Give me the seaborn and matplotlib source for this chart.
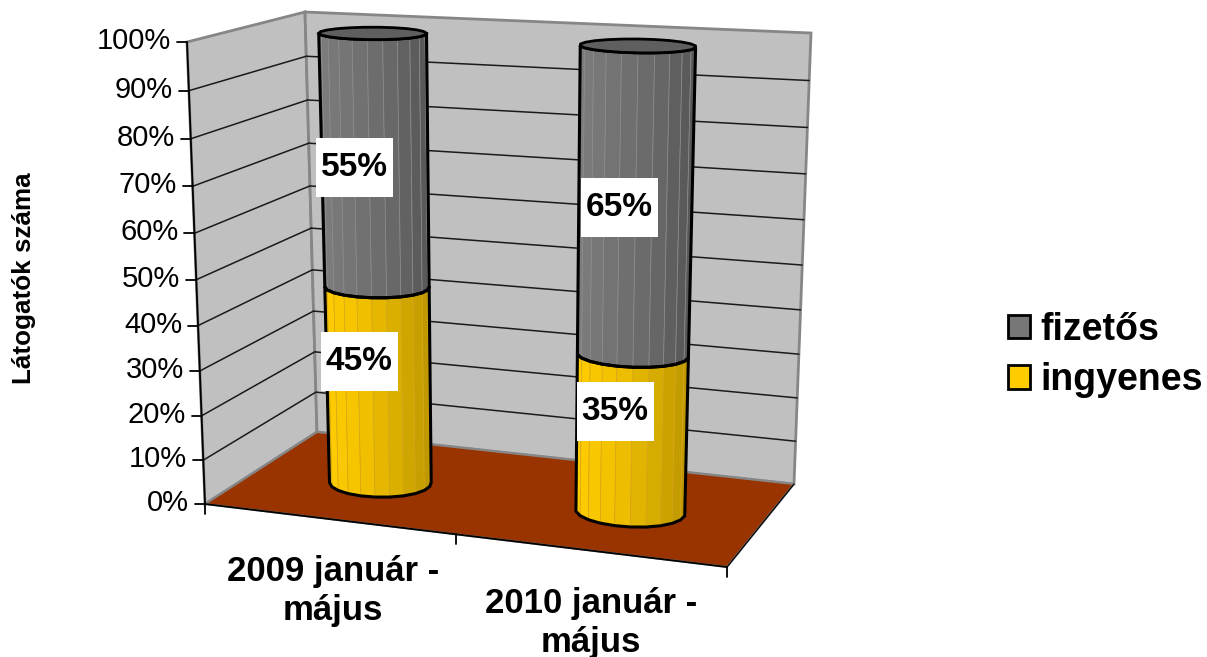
import numpy as np
import pandas as pd
import matplotlib
matplotlib.use('Agg')
import matplotlib.pyplot as plt
from matplotlib.patches import Polygon, Patch, Rectangle
import seaborn as sns

# Chart data
categories = ['2009 január -\nmájus', '2010 január -\nmájus']
series_names = ['ingyenes', 'fizetős']
ingyenes = [45, 35]
fizetos = [55, 65]
y_ticks = [0, 10, 20, 30, 40, 50, 60, 70, 80, 90, 100]
y_label = 'Látogatók száma'

# Excel style 3D box, pixel position of the eight corners (x side, height, depth)
BOX = {
    (0, 0, 0): (205, 504), (1, 0, 0): (727, 567), (0, 0, 1): (317, 432), (1, 0, 1): (794, 484),
    (0, 1, 0): (187, 42), (1, 1, 0): (741, 71), (0, 1, 1): (305, 12), (1, 1, 1): (811, 33),
}
PERSPECTIVE = 1.06
CYL_OFFSET = 0.483
CYL_DEPTH = 0.49
CYL_RX = [0.19, 0.212]
CYL_RZ = 0.18
SIDES = 22


def height_scale(v):
    f = np.asarray(v, dtype=float) / 100
    return f / (f + PERSPECTIVE * (1 - f))


def project(x, v, z):
    # x goes 0..len(categories), v 0..100, z 0..1
    u = np.asarray(x, dtype=float) / len(categories)
    h = height_scale(v)
    z = np.asarray(z, dtype=float)
    px, py = 0, 0
    for (a, b, c), (cx, cy) in BOX.items():
        w = (u if a else 1 - u) * (h if b else 1 - h) * (z if c else 1 - z)
        px = px + w * cx
        py = py + w * cy
    return px, py


def rim(i, v):
    t = np.linspace(0, 2 * np.pi, SIDES + 1) + 0.11
    return project(i + CYL_OFFSET + CYL_RX[i] * np.cos(t), np.full_like(t, v), CYL_DEPTH + CYL_RZ * np.sin(t))


def front_arc(px, py):
    # part of the rim facing the viewer, going from left to right
    px, py = px[:-1], py[:-1]
    left, right = np.argmin(px), np.argmax(px)
    idx = [left]
    while idx[-1] != right:
        idx.append((idx[-1] + 1) % len(px))
    a = np.array(idx)
    if py[a].mean() < (py[left] + py[right]) / 2:
        idx = [left]
        while idx[-1] != right:
            idx.append((idx[-1] - 1) % len(px))
        a = np.array(idx)
    return a


def draw_segment(ax, i, v0, v1, shades, seam, z):
    x0, y0 = rim(i, v0)
    x1, y1 = rim(i, v1)
    arc = front_arc(x0, y0)
    span = x0[arc[-1]] - x0[arc[0]]
    for a, b in zip(arc[:-1], arc[1:]):
        frac = ((x0[a] + x0[b]) / 2 - x0[arc[0]]) / span
        col = shades[int(frac * (len(shades) - 1))]
        pts = [(x0[a], y0[a]), (x0[b], y0[b]), (x1[b], y1[b]), (x1[a], y1[a])]
        ax.add_patch(Polygon(pts, closed=True, fc=col, ec=seam, lw=0.5, zorder=z))
    outline = list(zip(x0[arc], y0[arc])) + list(zip(x1[arc[::-1]], y1[arc[::-1]]))
    ax.add_patch(Polygon(outline, closed=True, fc='none', ec='black', lw=2.2, joinstyle='round', zorder=z + 0.5))


sns.set_theme(style='white')
plt.rcParams['font.family'] = ['Liberation Sans', 'DejaVu Sans']

fig = plt.figure(figsize=(12.07, 6.57), dpi=100)
ax = fig.add_axes([0, 0, 1, 1])

# walls and floor
wall = '#C0C0C0'
edge = '#868686'
left_wall = [BOX[0, 1, 0], BOX[0, 1, 1], BOX[0, 0, 1], BOX[0, 0, 0]]
back_wall = [BOX[0, 1, 1], BOX[1, 1, 1], BOX[1, 0, 1], BOX[0, 0, 1]]
floor = [BOX[0, 0, 0], BOX[0, 0, 1], BOX[1, 0, 1], BOX[1, 0, 0]]
ax.add_patch(Polygon(left_wall, closed=True, fc=wall, ec=edge, lw=2, zorder=1))
ax.add_patch(Polygon(back_wall, closed=True, fc=wall, ec=edge, lw=2, zorder=1))
ax.add_patch(Polygon(floor, closed=True, fc='#993300', ec=edge, lw=1.5, zorder=1.2))

# gridlines on both walls
n_cat = len(categories)
rows = []
for t in y_ticks[1:-1]:
    for name, xs, zs in [('left', (0, 0), (0, 1)), ('back', (0, n_cat), (1, 1))]:
        for x, z in zip(xs, zs):
            px, py = project(x, t, z)
            rows.append({'level': f'{name}{t}', 'step': x + z, 'px': float(px), 'py': float(py)})
grid = pd.DataFrame(rows)
sns.lineplot(data=grid, x='px', y='py', units='level', estimator=None, sort=False,
             color='#1a1a1a', lw=1.1, legend=False, ax=ax, zorder=1.5)

# axis lines and ticks
line = dict(color='black', lw=1.3, zorder=1.6)
ax.plot(*zip(BOX[0, 1, 0], BOX[0, 0, 0]), **line)
ax.plot(*zip(BOX[0, 0, 0], BOX[1, 0, 0]), **line)
ax.plot(*zip(BOX[1, 0, 0], BOX[1, 0, 1]), color='black', lw=0.9, zorder=1.6)
for t in y_ticks:
    px, py = project(0, t, 0)
    ax.plot([px - 10, px], [py, py], **line)
    ax.text(px - 16, py - 1, f'{t}%', ha='right', va='center', fontsize=21, color='black')
for k in [0, 0.96, n_cat]:
    px, py = project(k, 0, 0)
    ax.plot([px, px], [py, py + 10], **line)

# cylinders
yellow_shades = sns.blend_palette(['#FFCC00', '#F2C200', '#D9AE00', '#BC9600'], 64)
grey_shades = sns.blend_palette(['#7C7C7C', '#727272', '#686868', '#565656'], 64)
for i in range(n_cat):
    draw_segment(ax, i, 0, ingyenes[i], yellow_shades, '#D8A818', 2 + i)
    draw_segment(ax, i, ingyenes[i], ingyenes[i] + fizetos[i], grey_shades, '#8C8C8C', 2.1 + i)
    tx, ty = rim(i, ingyenes[i] + fizetos[i])
    ax.add_patch(Polygon(np.column_stack([tx, ty]), closed=True, fc='#5F5F5F', ec='black', lw=2, zorder=2.8 + i))

# value labels on white boxes
label_xy = [[(359, 361.5), (354.5, 167.5)], [(615, 411.5), (619, 207.5)]]
BOX_W, BOX_H = 77, 59
for i in range(n_cat):
    for vals, (lx, ly) in zip((ingyenes, fizetos), label_xy[i]):
        ax.add_patch(Rectangle((lx - BOX_W / 2, ly - BOX_H / 2), BOX_W, BOX_H, fc='white', ec='none', zorder=5.5))
        ax.text(lx, ly, f'{vals[i]}%', ha='center', va='center', fontsize=24, fontweight='bold',
                color='black', zorder=6)

# category labels
cat_xy = [(333, 591), (591, 623)]
for name, (cx, cy) in zip(categories, cat_xy):
    ax.text(cx, cy, name, ha='center', va='center', fontsize=25, fontweight='bold',
            linespacing=1.2, color='black')

ax.text(24, 278, y_label, rotation=90, ha='center', va='center', fontsize=18.7, fontweight='bold', color='black')

# legend
handles = [Patch(fc='#777777', ec='black', lw=2, label=series_names[1]),
           Patch(fc='#FFCC00', ec='black', lw=2, label=series_names[0])]
leg = ax.legend(handles=handles, loc='center left', bbox_to_anchor=(1008, 355), bbox_transform=ax.transData,
                frameon=False, prop={'size': 27, 'weight': 'bold'}, labelcolor='black',
                handlelength=0.59, handleheight=0.59,
                handletextpad=0.27, labelspacing=0.38, borderpad=0, borderaxespad=0)

ax.set_xlim(0, 1207)
ax.set_ylim(657, 0)
ax.set_xlabel('')
ax.set_ylabel('')
ax.axis('off')

fig.savefig('out.png', dpi=100, facecolor='white')
